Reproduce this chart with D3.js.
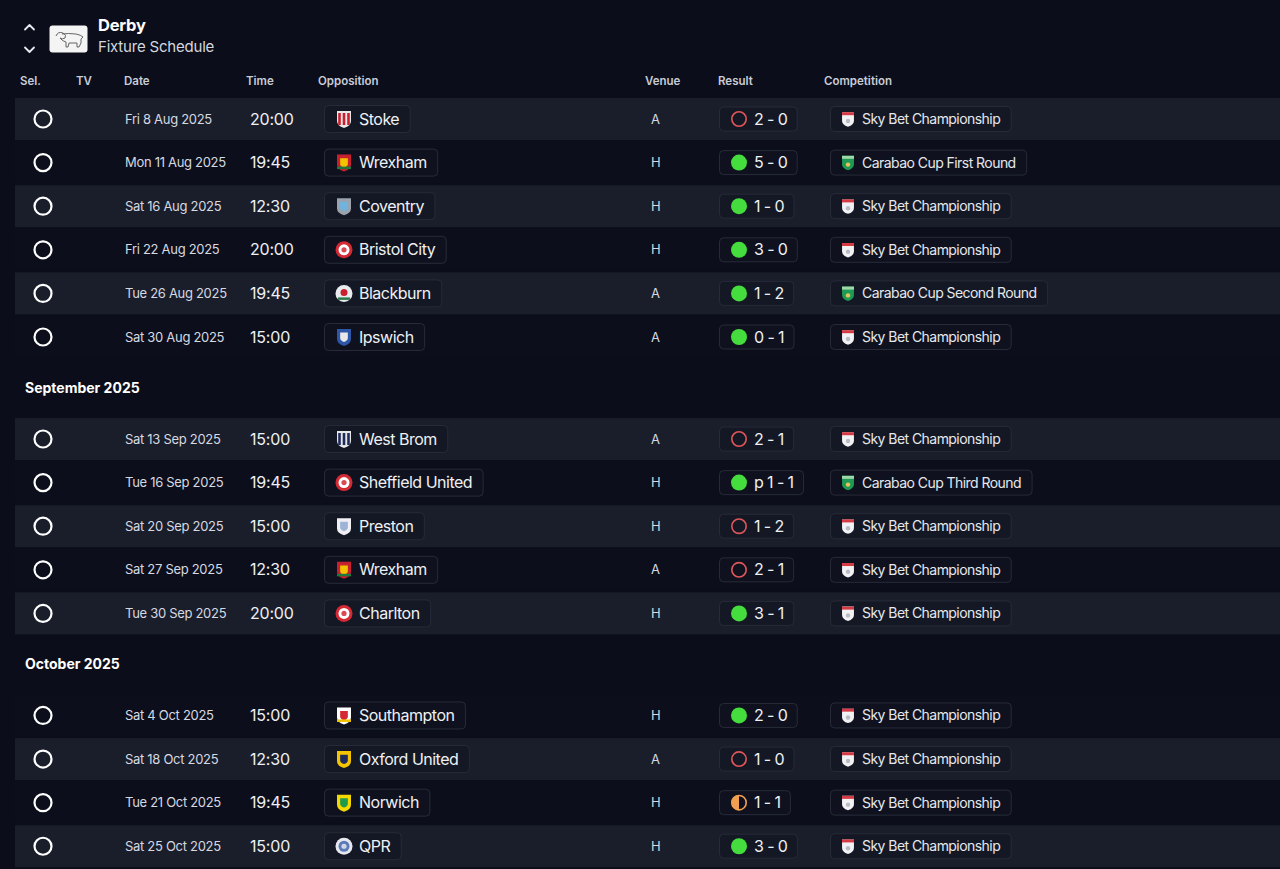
<!DOCTYPE html>
<html>
<head>
<meta charset="utf-8">
<script src="https://cdn.jsdelivr.net/npm/d3@7"></script>
<style>
  html, body { margin: 0; padding: 0; background: #0b0e1a; }
  svg { display: block; }
  text { font-family: Inter, "Noto Sans", sans-serif; }
</style>
</head>
<body>
<svg id="chart" width="1280" height="869"></svg>
<script>
// ---------------- DATA ----------------
const teamName = "Derby";
const pageTitle = "Fixture Schedule";
const columnLabels = ["Sel.", "TV", "Date", "Time", "Opposition", "Venue", "Result", "Competition"];
const monthLabels = ["", "September 2025", "October 2025"];
const monthIndex = [0, 0, 0, 0, 0, 0, 1, 1, 1, 1, 1, 2, 2, 2, 2];
const dates = ["Fri 8 Aug 2025", "Mon 11 Aug 2025", "Sat 16 Aug 2025", "Fri 22 Aug 2025", "Tue 26 Aug 2025", "Sat 30 Aug 2025",
  "Sat 13 Sep 2025", "Tue 16 Sep 2025", "Sat 20 Sep 2025", "Sat 27 Sep 2025", "Tue 30 Sep 2025",
  "Sat 4 Oct 2025", "Sat 18 Oct 2025", "Tue 21 Oct 2025", "Sat 25 Oct 2025"];
const times = ["20:00", "19:45", "12:30", "20:00", "19:45", "15:00", "15:00", "19:45", "15:00", "12:30", "20:00", "15:00", "12:30", "19:45", "15:00"];
const opponents = ["Stoke", "Wrexham", "Coventry", "Bristol City", "Blackburn", "Ipswich", "West Brom", "Sheffield United", "Preston", "Wrexham", "Charlton", "Southampton", "Oxford United", "Norwich", "QPR"];
const venues = ["A", "H", "H", "H", "A", "A", "A", "H", "H", "A", "H", "H", "A", "H", "H"];
const scores = ["2 - 0", "5 - 0", "1 - 0", "3 - 0", "1 - 2", "0 - 1", "2 - 1", "p 1 - 1", "1 - 2", "2 - 1", "3 - 1", "2 - 0", "1 - 0", "1 - 1", "3 - 0"];
const outcomes = ["L", "W", "W", "W", "W", "W", "L", "W", "L", "L", "W", "W", "L", "D", "W"];
const competitions = ["Sky Bet Championship", "Carabao Cup First Round", "Sky Bet Championship", "Sky Bet Championship", "Carabao Cup Second Round", "Sky Bet Championship",
  "Sky Bet Championship", "Carabao Cup Third Round", "Sky Bet Championship", "Sky Bet Championship", "Sky Bet Championship",
  "Sky Bet Championship", "Sky Bet Championship", "Sky Bet Championship", "Sky Bet Championship"];

// ---------------- STYLE ----------------
const colX = [20, 76, 124, 246, 318, 645, 718, 824];
const crestStyle = {
  "Stoke":            { shape: "shield", fill: "#e8e8e8", detail: "#c8202f", kind: "stripes" },
  "Wrexham":          { shape: "shield", fill: "#c8202f", detail: "#f2c300", kind: "badge", accent: "#1e7a3c" },
  "Coventry":         { shape: "shield", fill: "#9aa3ad", detail: "#6fb4e0", kind: "badge" },
  "Bristol City":     { shape: "circle", fill: "#d42a34", detail: "#ffffff", kind: "ring" },
  "Blackburn":        { shape: "circle", fill: "#e8ecef", detail: "#c8202f", kind: "rose", accent: "#2a7a4a" },
  "Ipswich":          { shape: "shield", fill: "#2d56a8", detail: "#e8e8e8", kind: "badge" },
  "West Brom":        { shape: "shield", fill: "#e8e8e8", detail: "#1e2a5a", kind: "stripes" },
  "Sheffield United": { shape: "circle", fill: "#d42a34", detail: "#ffffff", kind: "ring" },
  "Preston":          { shape: "shield", fill: "#f0f0f4", detail: "#9db4d6", kind: "badge" },
  "Charlton":         { shape: "circle", fill: "#d42a34", detail: "#ffffff", kind: "ring" },
  "Southampton":      { shape: "shield", fill: "#ffffff", detail: "#d42a34", kind: "badge", accent: "#f2c300" },
  "Oxford United":    { shape: "shield", fill: "#f5c400", detail: "#1e2a5a", kind: "badge" },
  "Norwich":          { shape: "shield", fill: "#f5d800", detail: "#1e9a4a", kind: "badge" },
  "QPR":              { shape: "circle", fill: "#e6e8ee", detail: "#5a7ab8", kind: "ring" }
};
const outcomeColor = { W: "#45dd3e", L: "#e0575a", D: "#f0a050" };

// ---------------- LAYOUT ----------------
const svg = d3.select("#chart");
const W = 1280, H = 869;
svg.append("rect").attr("width", W).attr("height", H).attr("fill", "#0b0e1a");

const headerSlots = 1.34;
const slot = (i) => i + monthIndex[i] * headerSlots;
const y = d3.scaleLinear().domain([0, 1]).range([119, 162.6]);
const rowStep = y(1) - y(0);

const rows = dates.map((d, i) => ({
  i, date: d, time: times[i], opp: opponents[i], venue: venues[i],
  score: scores[i], outcome: outcomes[i], comp: competitions[i], month: monthIndex[i]
}));

// Header
const hdr = svg.append("g");
hdr.append("path").attr("d", "M25,29.5 L29.5,25 L34,29.5").attr("fill", "none").attr("stroke", "#e8eaf0").attr("stroke-width", 1.8).attr("stroke-linecap", "round").attr("stroke-linejoin", "round");
hdr.append("path").attr("d", "M25,47.5 L29.5,52 L34,47.5").attr("fill", "none").attr("stroke", "#e8eaf0").attr("stroke-width", 1.8).attr("stroke-linecap", "round").attr("stroke-linejoin", "round");
hdr.append("rect").attr("x", 49.5).attr("y", 25.5).attr("width", 38).attr("height", 27).attr("rx", 3).attr("fill", "#f4f4f4");
hdr.append("path")
  .attr("d", "M56,36 q2,-5 7,-3 q4,2 2,5 q-3,2 -5,0 M62,34 q6,-1 14,0 q5,1 7,3 l-2,2 q1,4 -2,8 l-2,0 l0,-4 l-8,0 l-1,4 l-2,0 l0,-5 q-4,-1 -6,-4")
  .attr("fill", "none").attr("stroke", "#555").attr("stroke-width", 0.9);
hdr.append("text").attr("x", 98).attr("y", 31).attr("fill", "#ffffff").attr("font-size", 16.5).attr("font-weight", 700).attr("letter-spacing", -0.2).text(teamName);
hdr.append("text").attr("x", 98).attr("y", 52).attr("fill", "#d4d7df").attr("font-size", 15).attr("font-weight", 400).attr("letter-spacing", -0.2).text(pageTitle);

// Column labels
svg.append("g").selectAll("text").data(columnLabels).join("text")
  .attr("x", (d, i) => colX[i]).attr("y", 81).attr("dy", "0.35em")
  .attr("fill", "#c9ccd6").attr("font-size", 11.5).attr("font-weight", 600).text(d => d);

// Month headers
const firstOfMonth = monthLabels.map((m, k) => rows.find(r => r.month === k)).filter((r, k) => monthLabels[k] !== "");
svg.append("g").selectAll("text").data(firstOfMonth).join("text")
  .attr("x", 25).attr("y", r => y(slot(r.i)) - rowStep / 2 - (headerSlots * rowStep) / 2).attr("dy", "0.35em")
  .attr("fill", "#ffffff").attr("font-size", 14).attr("font-weight", 700)
  .text(r => monthLabels[r.month]);

// Row groups
const g = svg.append("g").selectAll("g.row").data(rows).join("g")
  .attr("class", "row").attr("transform", r => `translate(0,${y(slot(r.i))})`);

g.append("rect").attr("x", 15).attr("y", -21).attr("width", W - 15).attr("height", 42)
  .attr("fill", r => r.i % 2 === 0 ? "#1a1e2b" : "#0c0f1b");

// Sel circle
g.append("circle").attr("cx", 43).attr("cy", 0).attr("r", 8.5).attr("fill", "none").attr("stroke", "#ffffff").attr("stroke-width", 2.2);

// date, time, venue
g.append("text").attr("x", 125).attr("dy", "0.35em").attr("fill", "#d6d9e1").attr("font-size", 13).attr("letter-spacing", -0.3).text(r => r.date);
g.append("text").attr("x", 250).attr("dy", "0.35em").attr("fill", "#eef0f4").attr("font-size", 16).attr("letter-spacing", -0.2).text(r => r.time);
g.append("text").attr("x", 651).attr("dy", "0.35em").attr("fill", "#d6d9e1").attr("font-size", 13).text(r => r.venue);

const pillFill = r => r.i % 2 === 0 ? "#141824" : "#0f121e";
const pillStroke = "#272b38";

// Opposition pill
const opp = g.append("g");
const oppRect = opp.append("rect").attr("x", 324.5).attr("y", -13.5).attr("height", 27).attr("rx", 4)
  .attr("fill", pillFill).attr("stroke", pillStroke);
const oppText = opp.append("text").attr("x", 359).attr("dy", "0.35em").attr("fill", "#eef0f4").attr("font-size", 16).attr("letter-spacing", -0.5).text(r => r.opp);
oppRect.attr("width", function (r) {
  const t = oppText.filter(d => d === r).node();
  return 359 - 324.5 + t.getComputedTextLength() + 11;
});

function shieldPath(cx, s) {
  return `M${cx - 7 * s},${-8 * s} H${cx + 7 * s} V${2 * s} Q${cx + 7 * s},${7 * s} ${cx},${9 * s} Q${cx - 7 * s},${7 * s} ${cx - 7 * s},${2 * s} Z`;
}

opp.each(function (r) {
  const st = crestStyle[r.opp];
  const c = d3.select(this).append("g");
  const cx = 344;
  if (st.shape === "shield") {
    c.append("path").attr("d", shieldPath(cx, 1)).attr("fill", st.fill);
    if (st.kind === "stripes") {
      [-4.5, 0, 4.5].forEach(dx => c.append("rect").attr("x", cx + dx - 1.3).attr("y", -6).attr("width", 2.6).attr("height", 12).attr("fill", st.detail));
    } else {
      c.append("path").attr("d", shieldPath(cx, 0.55)).attr("fill", st.detail);
      if (st.accent) c.append("rect").attr("x", cx - 7).attr("y", 4).attr("width", 14).attr("height", 2.5).attr("fill", st.accent);
    }
  } else {
    c.append("circle").attr("cx", cx).attr("cy", 0).attr("r", 8.5).attr("fill", st.fill);
    if (st.kind === "ring") {
      c.append("circle").attr("cx", cx).attr("cy", 0).attr("r", 5.5).attr("fill", st.detail);
      c.append("circle").attr("cx", cx).attr("cy", 0).attr("r", 2.6).attr("fill", st.fill).attr("opacity", 0.85);
    } else {
      c.append("circle").attr("cx", cx).attr("cy", -1).attr("r", 3.5).attr("fill", st.detail);
      c.append("rect").attr("x", cx - 6).attr("y", 4).attr("width", 12).attr("height", 2.5).attr("fill", st.accent);
    }
  }
});

// Result pill
const res = g.append("g");
const resRect = res.append("rect").attr("x", 719.5).attr("y", -12).attr("height", 24).attr("rx", 4)
  .attr("fill", pillFill).attr("stroke", pillStroke);
const resText = res.append("text").attr("x", 754).attr("dy", "0.35em").attr("fill", "#eef0f4").attr("font-size", 16).attr("letter-spacing", -0.6).text(r => r.score);
resRect.attr("width", function (r) {
  const t = resText.filter(d => d === r).node();
  return 754 - 719.5 + t.getComputedTextLength() + 10;
});
res.each(function (r) {
  const s = d3.select(this);
  const col = outcomeColor[r.outcome];
  if (r.outcome === "W") {
    s.append("circle").attr("cx", 739).attr("cy", 0).attr("r", 8).attr("fill", col);
  } else if (r.outcome === "L") {
    s.append("circle").attr("cx", 739).attr("cy", 0).attr("r", 7.2).attr("fill", "none").attr("stroke", col).attr("stroke-width", 1.6);
  } else {
    s.append("path").attr("d", "M739,-7.5 A7.5,7.5 0 0,0 739,7.5 Z").attr("fill", col);
    s.append("circle").attr("cx", 739).attr("cy", 0).attr("r", 7.2).attr("fill", "none").attr("stroke", col).attr("stroke-width", 1.6);
  }
});

// Competition pill
const comp = g.append("g");
const compRect = comp.append("rect").attr("x", 830.5).attr("y", -12.5).attr("height", 25).attr("rx", 4)
  .attr("fill", pillFill).attr("stroke", pillStroke);
const compText = comp.append("text").attr("x", 862).attr("dy", "0.35em").attr("fill", "#e6e8ee").attr("font-size", 14).attr("letter-spacing", -0.55).text(r => r.comp);
compRect.attr("width", function (r) {
  const t = compText.filter(d => d === r).node();
  return 862 - 830.5 + t.getComputedTextLength() + 11;
});
comp.each(function (r) {
  const s = d3.select(this);
  const cx = 848;
  const carabao = r.comp.startsWith("Carabao");
  s.append("path").attr("d", shieldPath(cx, 0.85)).attr("fill", carabao ? "#1f9a55" : "#f2f2f4");
  s.append("rect").attr("x", cx - 6).attr("y", -6.8).attr("width", 12).attr("height", 3).attr("fill", carabao ? "#9fd7a8" : "#d63a45");
  s.append("circle").attr("cx", cx).attr("cy", 2).attr("r", 2.2).attr("fill", carabao ? "#e8c25a" : "#b9bcc6");
});
</script>
</body>
</html>
